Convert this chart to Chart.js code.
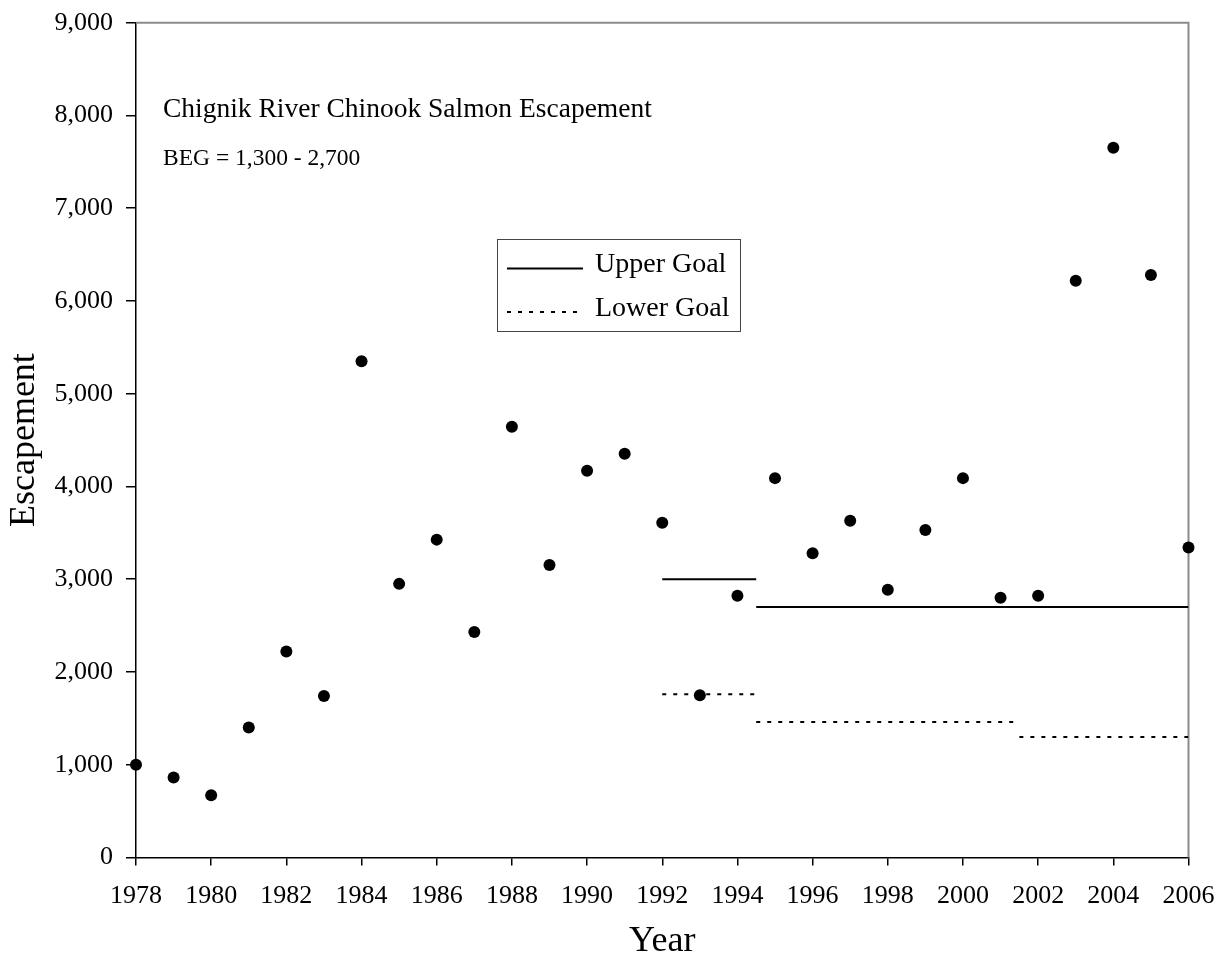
<!DOCTYPE html>
<html>
<head>
<meta charset="utf-8">
<script src="https://cdn.jsdelivr.net/npm/chart.js@4"></script>
<style>
  html, body { margin: 0; padding: 0; background: #fff; }
  #wrap { width: 1221px; height: 960px; }
</style>
</head>
<body>
<div id="wrap"><canvas id="escapementChart" width="1221" height="960"></canvas></div>
<script>
const years = [1978, 1979, 1980, 1981, 1982, 1983, 1984, 1985, 1986, 1987,
  1988, 1989, 1990, 1991, 1992, 1993, 1994, 1995, 1996, 1997,
  1998, 1999, 2000, 2001, 2002, 2003, 2004, 2005, 2006]
const escapement = [1000, 862, 670, 1402, 2220, 1740, 5350, 2950, 3427, 2430,
  4645, 3154, 4170, 4354, 3610, 1749, 2823, 4090, 3280, 3630,
  2886, 3530, 4090, 2801, 2823, 6219, 7651, 6280, 3342]

// goal periods (year the goal starts / ends) and goal values
const upperStart = [1992, 1994.5]
const upperEnd = [1994.5, 2006]
const upperGoal = [3000, 2700]
const lowerStart = [1992, 1994.5, 2001.5]
const lowerEnd = [1994.5, 2001.5, 2006]
const lowerGoal = [1760, 1460, 1300]

const serif = '"Liberation Serif", "Times New Roman", Times, serif'

function goalPoints(starts, ends, values) {
  const pts = []
  values.forEach((v, i) => {
    if (i > 0) pts.push({ x: starts[i], y: null })
    pts.push({ x: starts[i], y: v }, { x: ends[i], y: v })
  })
  return pts
}

// grey frame on top and right of the plot area
const frame = {
  id: "frame",
  beforeDatasetsDraw(chart) {
    const { ctx, chartArea: a } = chart
    ctx.save()
    ctx.strokeStyle = "#8c8c8c"
    ctx.lineWidth = 2
    ctx.beginPath()
    ctx.moveTo(a.left, a.top)
    ctx.lineTo(a.right, a.top)
    ctx.lineTo(a.right, a.bottom)
    ctx.stroke()
    ctx.restore()
  }
}

// text notes in the upper left
const notes = {
  id: "notes",
  afterDraw(chart) {
    const ctx = chart.ctx
    ctx.save()
    ctx.fillStyle = "#000"
    ctx.textBaseline = "alphabetic"
    ctx.textAlign = "left"
    ctx.font = "27.5px " + serif
    ctx.fillText("Chignik River Chinook Salmon Escapement", 163, 117)
    ctx.font = "23.5px " + serif
    ctx.fillText("BEG = 1,300 - 2,700", 163, 165)
    ctx.restore()
  }
}

// boxed legend floating inside the chart
const goalLegend = {
  id: "goalLegend",
  afterDraw(chart) {
    const ctx = chart.ctx
    const items = chart.data.datasets.slice(1)
    ctx.save()
    ctx.fillStyle = "#fff"
    ctx.fillRect(497, 239, 243, 92)
    ctx.strokeStyle = "#444"
    ctx.lineWidth = 1
    ctx.strokeRect(497.5, 239.5, 243, 92)
    items.forEach((ds, i) => {
      const y = 268.5 + i * 43.5
      ctx.strokeStyle = ds.borderColor
      ctx.lineWidth = ds.borderWidth
      ctx.setLineDash(ds.borderDash || [])
      ctx.beginPath()
      ctx.moveTo(507, y)
      ctx.lineTo(583, y)
      ctx.stroke()
      ctx.setLineDash([])
      ctx.fillStyle = "#000"
      ctx.font = "28px " + serif
      ctx.textBaseline = "alphabetic"
      ctx.fillText(ds.label, 595, y + 3.5)
    })
    ctx.restore()
  }
}

const config = {
  type: "scatter",
  data: {
    datasets: [
      {
        label: "Escapement",
        data: years.map((yr, i) => ({ x: yr, y: escapement[i] })),
        backgroundColor: "#000",
        borderWidth: 0,
        pointRadius: 6,
        pointHoverRadius: 6,
        clip: false
      },
      {
        label: "Upper Goal",
        data: goalPoints(upperStart, upperEnd, upperGoal),
        showLine: true,
        spanGaps: false,
        borderColor: "#000",
        borderWidth: 2,
        pointRadius: 0
      },
      {
        label: "Lower Goal",
        data: goalPoints(lowerStart, lowerEnd, lowerGoal),
        showLine: true,
        spanGaps: false,
        borderColor: "#000",
        borderWidth: 2,
        borderDash: [4, 7],
        pointRadius: 0
      }
    ]
  },
  options: {
    responsive: false,
    animation: false,
    devicePixelRatio: 1,
    locale: "en-US",
    layout: { padding: { top: 22.7, right: 32.5, left: 0, bottom: 0 } },
    scales: {
      x: {
        type: "linear",
        position: "bottom",
        min: 1978,
        max: 2006,
        afterFit: s => {
          s.height = 102.5
          s.paddingLeft = 0
          s.paddingRight = 0
        },
        border: { color: "#000", width: 1.5 },
        grid: { drawOnChartArea: false, tickLength: 8, color: "#000", lineWidth: 1.5 },
        ticks: {
          stepSize: 2,
          autoSkip: false,
          maxRotation: 0,
          padding: 15,
          color: "#000",
          font: { family: serif, size: 26 },
          callback: v => String(v)
        },
        title: {
          display: true,
          text: "Year",
          color: "#000",
          font: { family: serif, size: 36, lineHeight: 1 },
          padding: { top: 0, bottom: 0 }
        }
      },
      y: {
        min: 0,
        max: 9000,
        afterFit: s => {
          s.width = 136
          s.paddingTop = 0
          s.paddingBottom = 0
        },
        border: { color: "#000", width: 1.5 },
        grid: { drawOnChartArea: false, tickLength: 10, color: "#000", lineWidth: 1.5 },
        ticks: {
          stepSize: 1000,
          padding: 13,
          color: "#000",
          font: { family: serif, size: 26 }
        },
        title: {
          display: true,
          text: "Escapement",
          color: "#000",
          font: { family: serif, size: 36, lineHeight: 1 },
          padding: { top: 6.5, bottom: 0 }
        }
      }
    },
    plugins: {
      legend: { display: false },
      tooltip: { enabled: false }
    }
  },
  plugins: [frame, notes, goalLegend]
}

new Chart(document.getElementById("escapementChart"), config)
</script>
</body>
</html>
